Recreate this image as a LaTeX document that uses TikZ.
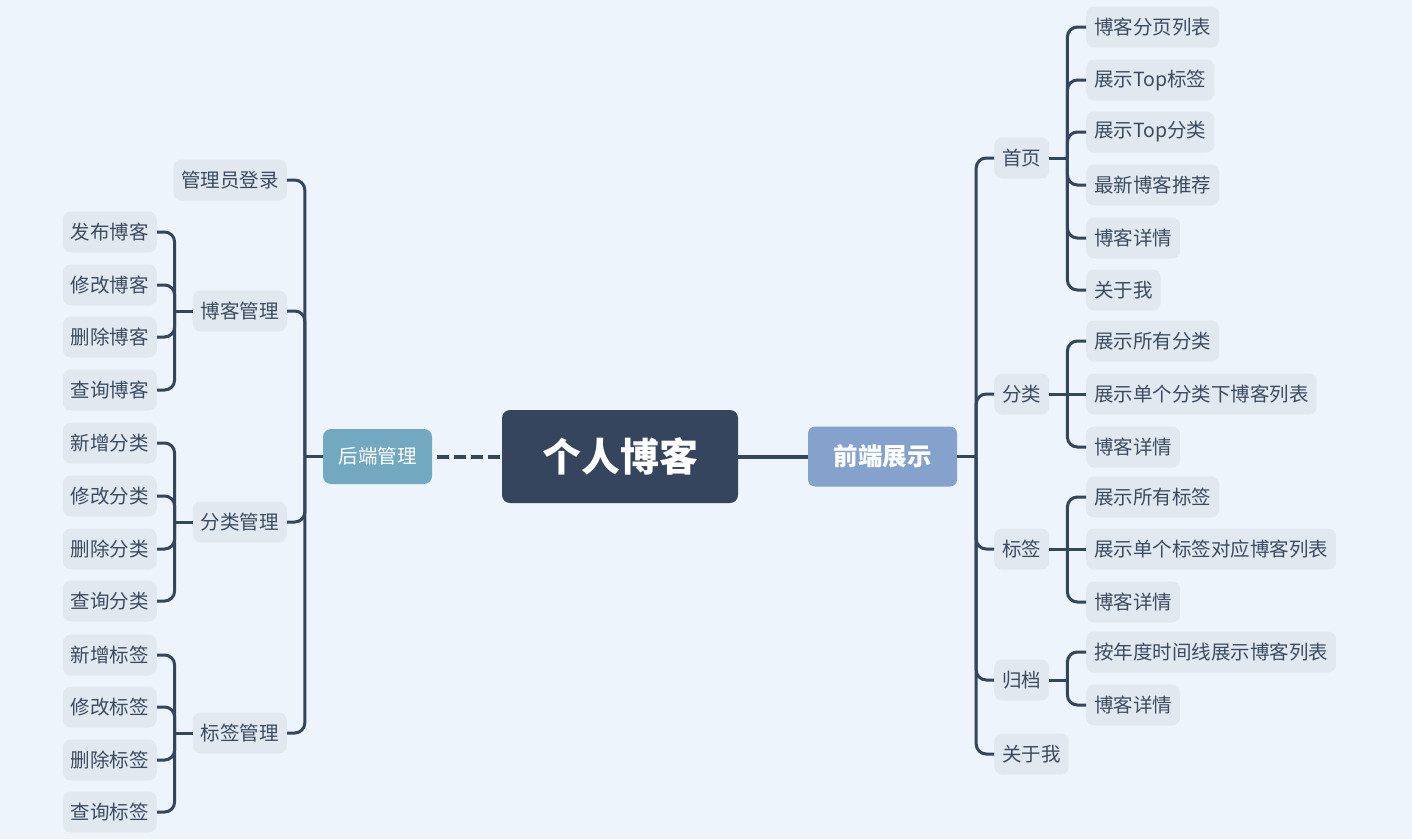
\documentclass[tikz,border=0pt]{standalone}
\usepackage{fontspec}
\setmainfont{Noto Sans CJK SC}
\definecolor{bgc}{HTML}{EDF4FB}
\definecolor{leaffill}{HTML}{E1E8F0}
\definecolor{txtc}{HTML}{3B4B61}
\definecolor{linec}{HTML}{34455E}
\definecolor{rootc}{HTML}{34455D}
\definecolor{bec}{HTML}{72A8C0}
\definecolor{fec}{HTML}{84A2CB}
\tikzset{
  leaf/.style={fill=leaffill, rounded corners=8pt, text=txtc, font=\fontsize{19.5}{20}\selectfont,
    minimum height=41pt, inner xsep=8pt, inner ysep=0pt},
  conn/.style={draw=linec, line width=3pt},
  mainconn/.style={draw=linec, line width=4pt},
  elbow/.style={conn, rounded corners=10pt},
}
\begin{document}
\begin{tikzpicture}[x=1pt,y=-1pt]
\fill[bgc] (0,0) rectangle (1412,839);
\useasboundingbox (0,0) rectangle (1412,839);

% root and main branches
\node[fill=rootc, rounded corners=8pt, minimum width=236pt, minimum height=93pt, inner sep=0pt,
  text=white, font=\fontsize{39}{40}\selectfont\bfseries] (root) at (620,456.5) {个人博客};
\node[fill=fec, rounded corners=7pt, minimum width=149pt, minimum height=60pt, inner sep=0pt,
  text=white, font=\fontsize{24.5}{25}\selectfont\bfseries] (fe) at (882.5,456.5) {前端展示};
\node[fill=bec, rounded corners=8pt, minimum width=109pt, minimum height=55pt, inner sep=0pt,
  text=white, font=\fontsize{19.5}{20}\selectfont] (be) at (377.5,456.5) {后端管理};

\draw[mainconn] (root.east) -- (fe.west);
\draw[mainconn, dash pattern=on 12pt off 5pt] ([xshift=5pt]be.east) -- ([xshift=-2pt]root.west);

% right side level 1
\node[leaf, anchor=west] (sy) at (994,158) {首页};
\node[leaf, anchor=west] (fl) at (994,394) {分类};
\node[leaf, anchor=west] (bq) at (994,549) {标签};
\node[leaf, anchor=west] (gd) at (994,680) {归档};
\node[leaf, anchor=west] (gy) at (994,754) {关于我};

% right side level 2
\node[leaf, anchor=west] (sy1) at (1086,27) {博客分页列表};
\node[leaf, anchor=west] (sy2) at (1086,80) {展示Top标签};
\node[leaf, anchor=west] (sy3) at (1086,132) {展示Top分类};
\node[leaf, anchor=west] (sy4) at (1086,185) {最新博客推荐};
\node[leaf, anchor=west] (sy5) at (1086,238) {博客详情};
\node[leaf, anchor=west] (sy6) at (1086,290) {关于我};

\node[leaf, anchor=west] (fl1) at (1086,341) {展示所有分类};
\node[leaf, anchor=west] (fl2) at (1086,394) {展示单个分类下博客列表};
\node[leaf, anchor=west] (fl3) at (1086,447) {博客详情};

\node[leaf, anchor=west] (bq1) at (1086,497) {展示所有标签};
\node[leaf, anchor=west] (bq2) at (1086,549) {展示单个标签对应博客列表};
\node[leaf, anchor=west] (bq3) at (1086,602) {博客详情};

\node[leaf, anchor=west] (gd1) at (1086,652) {按年度时间线展示博客列表};
\node[leaf, anchor=west] (gd2) at (1086,705) {博客详情};

% left side level 1
\node[leaf, anchor=east] (gl) at (287,180) {管理员登录};
\node[leaf, anchor=east] (bk) at (287,311) {博客管理};
\node[leaf, anchor=east] (fg) at (287,522) {分类管理};
\node[leaf, anchor=east] (bg) at (287,733) {标签管理};

% left side level 2
\node[leaf, anchor=east] (bk1) at (157,232) {发布博客};
\node[leaf, anchor=east] (bk2) at (157,285) {修改博客};
\node[leaf, anchor=east] (bk3) at (157,337) {删除博客};
\node[leaf, anchor=east] (bk4) at (157,390) {查询博客};

\node[leaf, anchor=east] (fg1) at (157,443) {新增分类};
\node[leaf, anchor=east] (fg2) at (157,496) {修改分类};
\node[leaf, anchor=east] (fg3) at (157,549) {删除分类};
\node[leaf, anchor=east] (fg4) at (157,601) {查询分类};

\node[leaf, anchor=east] (bg1) at (157,655) {新增标签};
\node[leaf, anchor=east] (bg2) at (157,707) {修改标签};
\node[leaf, anchor=east] (bg3) at (157,760) {删除标签};
\node[leaf, anchor=east] (bg4) at (157,812) {查询标签};

% junctions
\coordinate (fej) at ([xshift=19pt]fe.east);
\coordinate (syj) at ([xshift=18pt]sy.east);
\coordinate (flj) at ([xshift=18pt]fl.east);
\coordinate (bqj) at ([xshift=18pt]bq.east);
\coordinate (gdj) at ([xshift=18pt]gd.east);
\coordinate (bej) at ([xshift=-18pt]be.west);
\coordinate (bkj) at ([xshift=-18pt]bk.west);
\coordinate (fgj) at ([xshift=-18pt]fg.west);
\coordinate (bgj) at ([xshift=-18pt]bg.west);

% right connectors
\draw[conn] (fe.east) -- (fej);
\foreach \c in {sy,fl,bq,gd,gy} \draw[elbow] (fej) |- (\c.west);
\draw[conn] (sy.east) -- (syj);
\foreach \c in {sy1,sy2,sy3,sy4,sy5,sy6} \draw[elbow] (syj) |- (\c.west);
\draw[conn] (fl.east) -- (fl2.west);
\foreach \c in {fl1,fl3} \draw[elbow] (flj) |- (\c.west);
\draw[conn] (bq.east) -- (bq2.west);
\foreach \c in {bq1,bq3} \draw[elbow] (bqj) |- (\c.west);
\draw[conn] (gd.east) -- (gdj);
\foreach \c in {gd1,gd2} \draw[elbow] (gdj) |- (\c.west);

% left connectors
\draw[conn] (be.west) -- (bej);
\foreach \c in {gl,bk,fg,bg} \draw[elbow] (bej) |- (\c.east);
\draw[conn] (bk.west) -- (bkj);
\foreach \c in {bk1,bk2,bk3,bk4} \draw[elbow] (bkj) |- (\c.east);
\draw[conn] (fg.west) -- (fgj);
\foreach \c in {fg1,fg2,fg3,fg4} \draw[elbow] (fgj) |- (\c.east);
\draw[conn] (bg.west) -- (bgj);
\foreach \c in {bg1,bg2,bg3,bg4} \draw[elbow] (bgj) |- (\c.east);
\end{tikzpicture}
\end{document}
